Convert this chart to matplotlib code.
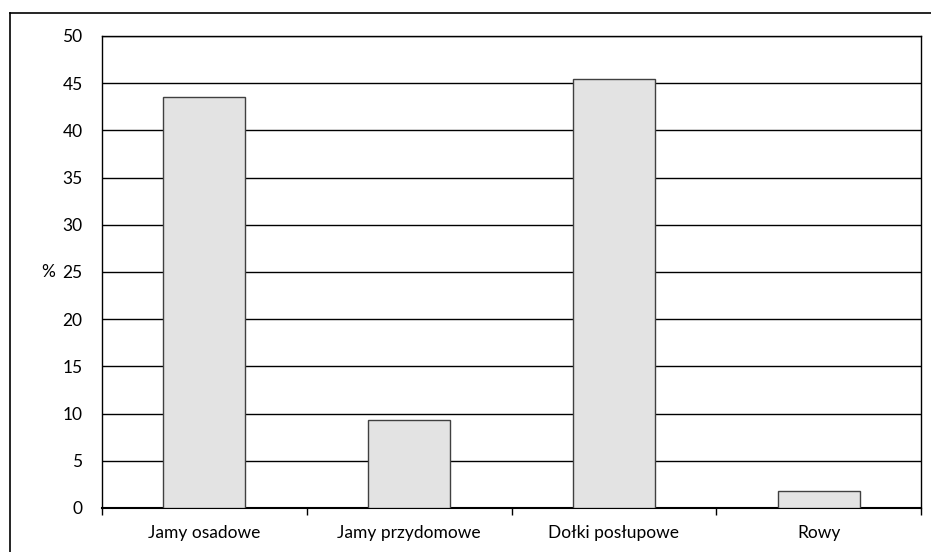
import matplotlib.pyplot as plt
import numpy as np

categories = ["Jamy osadowe", "Jamy przydomowe", "Dołki posłupowe", "Rowy"]
values = [43.5, 9.3, 45.4, 1.8]
yticks = [0, 5, 10, 15, 20, 25, 30, 35, 40, 45, 50]

plt.rcParams['font.family'] = ['Lato', 'DejaVu Sans']
plt.rcParams['font.size'] = 12.5

fig = plt.figure(figsize=(9.31, 5.52), dpi=100)
ax = fig.add_axes([102 / 931, 1 - 508 / 552, (921 - 102) / 931, (508 - 36) / 552])

x = np.arange(len(categories))
ax.bar(x, values, width=0.4, color='#e3e3e3', edgecolor='#404040', linewidth=1, zorder=3)

ax.set_xlim(-0.5, len(categories) - 0.5)
ax.set_ylim(0, 50)
ax.set_yticks(yticks)
ax.yaxis.grid(True, color='black', linewidth=1)
ax.set_axisbelow(True)

# category labels centred, tick marks on the boundaries
ax.set_xticks(x)
ax.set_xticklabels(categories)
ax.tick_params(axis='x', length=0, pad=12)
ax.set_xticks(np.arange(-0.5, len(categories)), minor=True)
ax.tick_params(axis='x', which='minor', length=5, width=1, direction='out')
ax.tick_params(axis='y', length=0, pad=14)

for s in ax.spines.values():
    s.set_color('black')
    s.set_linewidth(1)
ax.spines['bottom'].set_linewidth(1.5)

ax.set_ylabel('%', rotation=0, labelpad=10, va='center')

# outer chart frame
fig.add_artist(plt.Line2D([9.5 / 931, 9.5 / 931], [0, 1 - 12.5 / 552], color='black', lw=1.2))
fig.add_artist(plt.Line2D([9.5 / 931, 1], [1 - 12.5 / 552, 1 - 12.5 / 552], color='black', lw=1.2))

fig.savefig('out.png', dpi=100)
